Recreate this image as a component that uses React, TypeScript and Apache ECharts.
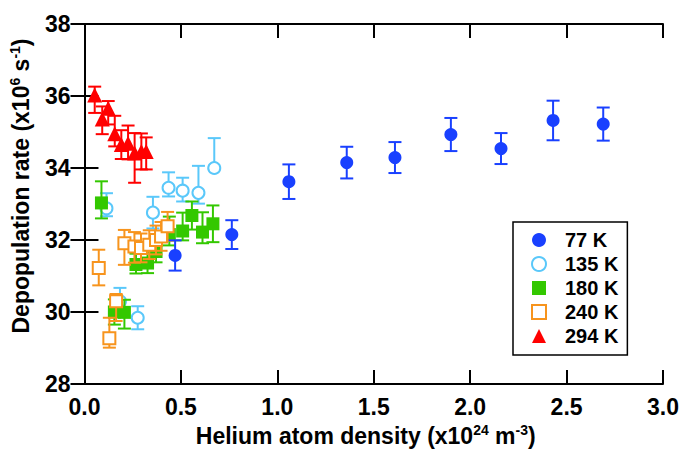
import React, { useEffect, useRef } from "react";
import * as echarts from "echarts";

// [x, y, errMinus, errPlus]
const names = ["77 K", "135 K", "180 K", "240 K", "294 K"];
const colors = ["#1940ff", "#5ac8fa", "#33c800", "#f7941d", "#ff0000"];
const symbols = ["circle", "emptyCircle", "rect", "emptyRect", "triangle"];
const zOrder = [8, 2, 4, 6, 10];

const d77 = [
  [0.47, 31.57, 0.42, 0.42],
  [0.764, 32.15, 0.4, 0.4],
  [1.06, 33.62, 0.48, 0.48],
  [1.36, 34.15, 0.44, 0.44],
  [1.61, 34.29, 0.43, 0.43],
  [1.9, 34.93, 0.46, 0.46],
  [2.16, 34.54, 0.43, 0.43],
  [2.43, 35.32, 0.55, 0.55],
  [2.69, 35.22, 0.46, 0.46],
];
const d135 = [
  [0.114, 32.88, 0.22, 0.42],
  [0.184, 30.3, 0.37, 0.37],
  [0.276, 29.84, 0.32, 0.32],
  [0.355, 32.76, 0.44, 0.44],
  [0.436, 33.45, 0.24, 0.43],
  [0.509, 33.37, 0.3, 0.36],
  [0.591, 33.31, 0.3, 0.75],
  [0.673, 34.0, 0.02, 0.83],
];
const d180 = [
  [0.088, 33.03, 0.43, 0.6],
  [0.155, 30.0, 0.35, 0.35],
  [0.207, 29.99, 0.45, 0.35],
  [0.267, 31.32, 0.25, 0.3],
  [0.327, 31.36, 0.28, 0.3],
  [0.371, 31.68, 0.3, 0.3],
  [0.44, 32.15, 0.3, 0.5],
  [0.509, 32.25, 0.26, 0.51],
  [0.557, 32.68, 0.39, 0.39],
  [0.612, 32.22, 0.31, 0.55],
  [0.666, 32.45, 0.51, 0.51],
];
const d240 = [
  [0.074, 31.22, 0.48, 0.51],
  [0.129, 29.27, 0.26, 0.57],
  [0.164, 30.3, 0.55, 0.2],
  [0.207, 31.91, 0.6, 0.37],
  [0.259, 31.82, 0.45, 0.4],
  [0.293, 31.78, 0.4, 0.4],
  [0.336, 31.87, 0.4, 0.4],
  [0.371, 32.0, 0.4, 0.4],
  [0.397, 32.1, 0.4, 0.4],
  [0.431, 32.38, 0.4, 0.4],
];
const d294 = [
  [0.053, 36.03, 0.5, 0.23],
  [0.092, 35.36, 0.42, 0.35],
  [0.123, 35.66, 0.45, 0.2],
  [0.157, 34.95, 0.35, 0.5],
  [0.191, 34.65, 0.4, 0.4],
  [0.226, 34.69, 0.45, 0.49],
  [0.26, 34.42, 0.83, 0.55],
  [0.295, 34.46, 0.5, 0.5],
  [0.32, 34.46, 0.5, 0.39],
];
const allData = [d77, d135, d180, d240, d294];

const FONT = "'Liberation Sans', Arial, sans-serif";

export default function App() {
  const ref = useRef<HTMLDivElement>(null);
  useEffect(() => {
    if (!ref.current) return;
    const chart = echarts.init(ref.current, null, { renderer: "svg" });
    const series: any[] = [];
    allData.forEach((data, i) => {
      const color = colors[i];
      series.push({
        name: names[i] + " err",
        type: "custom",
        z: zOrder[i],
        data: data.map((d) => [d[0], d[1] - d[2], d[1] + d[3]]),
        encode: { x: 0, y: [1, 2] },
        renderItem: (params: any, api: any) => {
          const x = api.value(0);
          const lo = api.coord([x, api.value(1)]);
          const hi = api.coord([x, api.value(2)]);
          const hw = 6.5;
          const st = { stroke: color, lineWidth: 2 };
          return {
            type: "group",
            children: [
              { type: "line", shape: { x1: lo[0], y1: lo[1], x2: hi[0], y2: hi[1] }, style: st },
              { type: "line", shape: { x1: lo[0] - hw, y1: lo[1], x2: lo[0] + hw, y2: lo[1] }, style: st },
              { type: "line", shape: { x1: hi[0] - hw, y1: hi[1], x2: hi[0] + hw, y2: hi[1] }, style: st },
            ],
          };
        },
      });
      const empty = symbols[i].startsWith("empty");
      series.push({
        name: names[i],
        type: "scatter",
        z: zOrder[i] + 1,
        symbol: symbols[i],
        symbolSize: i === 4 ? 15 : empty ? 12 : 13,
        itemStyle: empty
          ? { color: color, borderColor: color, borderWidth: 1.5, opacity: 1 }
          : { color: color, opacity: 1 },
        data: data.map((d) => [d[0], d[1]]),
      });
    });

    const axisLine = { show: true, lineStyle: { color: "#000", width: 2 } };
    const axisTick = { show: true, inside: true, length: 14, lineStyle: { color: "#000", width: 2 } };
    const labelStyle = { color: "#000", fontSize: 23, fontWeight: "bold", fontFamily: FONT };
    const nameRich = {
      sup: { fontSize: 14, fontWeight: "bold", fontFamily: FONT, color: "#000", verticalAlign: "top", lineHeight: 14 },
    };

    chart.setOption({
      animation: false,
      backgroundColor: "#fff",
      grid: { left: 83, right: 19, top: 24, bottom: 69, containLabel: false },
      legend: {
        data: names,
        orient: "vertical",
        left: 513,
        top: 222,
        padding: [8, 9, 9, 18],
        itemGap: 4,
        itemWidth: 14,
        itemHeight: 14,
        borderColor: "#000",
        borderWidth: 1.5,
        backgroundColor: "#fff",
        textStyle: { fontSize: 20, fontWeight: "bold", fontFamily: FONT, color: "#000", lineHeight: 20, padding: [0, 0, 0, 14] },
      },
      xAxis: [
        {
          type: "value",
          min: 0,
          max: 3,
          interval: 0.5,
          position: "bottom",
          axisLine,
          axisTick,
          splitLine: { show: false },
          axisLabel: { ...labelStyle, margin: 11, formatter: (v: number) => v.toFixed(1) },
          name: "Helium atom density (x10{sup|24} m{sup|-3})",
          nameLocation: "middle",
          nameGap: 39,
          nameTextStyle: { ...labelStyle, lineHeight: 26, rich: nameRich, padding: [0, 16, 0, 0] },
        },
        {
          type: "value",
          min: 0,
          max: 3,
          interval: 0.5,
          position: "top",
          axisLine,
          axisTick,
          splitLine: { show: false },
          axisLabel: { show: false },
        },
      ],
      yAxis: [
        {
          type: "value",
          min: 28,
          max: 38,
          interval: 2,
          position: "left",
          axisLine,
          axisTick,
          splitLine: { show: false },
          axisLabel: { ...labelStyle, margin: 14 },
          name: "Depopulation rate (x10{sup|6} s{sup|-1})",
          nameLocation: "middle",
          nameGap: 38,
          nameRotate: 90,
          nameTextStyle: { ...labelStyle, lineHeight: 26, rich: nameRich, padding: [0, 0, 0, 36] },
        },
        {
          type: "value",
          min: 28,
          max: 38,
          interval: 2,
          position: "right",
          axisLine,
          axisTick,
          splitLine: { show: false },
          axisLabel: { show: false },
        },
      ],
      series,
    });
    return () => chart.dispose();
  }, []);
  return <div ref={ref} style={{ width: 682, height: 454, position: "absolute", left: 0, top: 0 }} />;
}
